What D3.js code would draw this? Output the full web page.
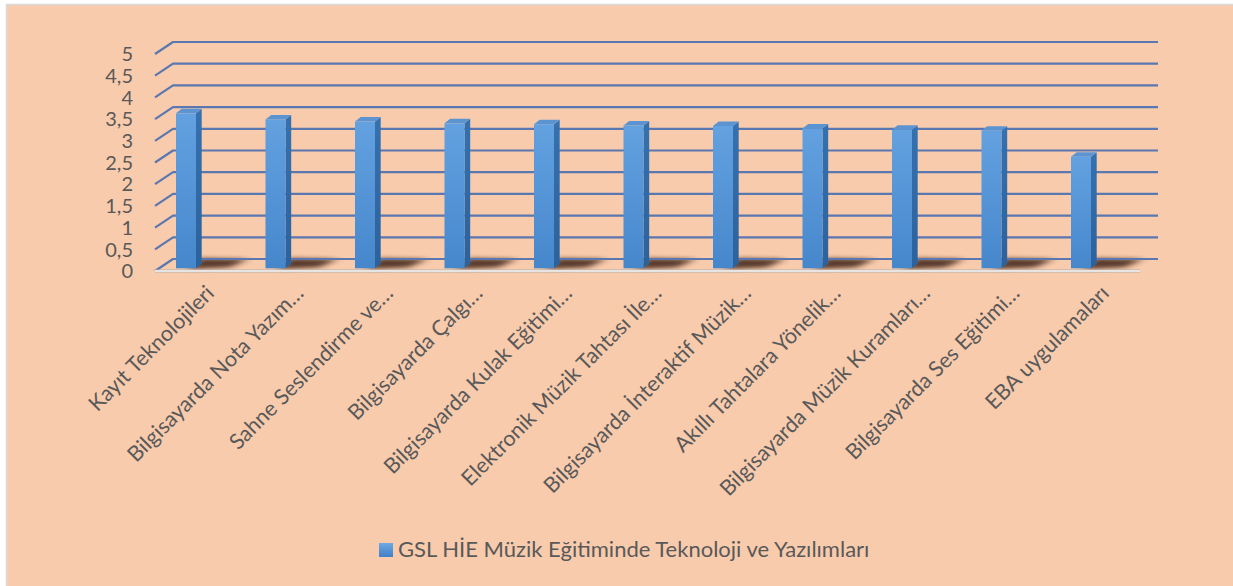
<!DOCTYPE html>
<html><head><meta charset="utf-8">
<script src="https://cdn.jsdelivr.net/npm/d3@7/dist/d3.min.js"></script>
<style>
html,body{margin:0;padding:0;background:#fff;}
svg{display:block;}
text{font-family:Lato,"Open Sans",sans-serif;fill:#595959;}
</style></head>
<body>
<svg id="chart" width="1233" height="586"></svg>
<script>
const categories = [
  "Kayıt Teknolojileri",
  "Bilgisayarda Nota Yazım…",
  "Sahne Seslendirme ve…",
  "Bilgisayarda Çalgı…",
  "Bilgisayarda Kulak Eğitimi…",
  "Elektronik Müzik Tahtası İle…",
  "Bilgisayarda İnteraktif Müzik…",
  "Akıllı Tahtalara Yönelik…",
  "Bilgisayarda Müzik Kuramları…",
  "Bilgisayarda Ses Eğitimi…",
  "EBA uygulamaları"
];
const values = [3.57, 3.43, 3.38, 3.34, 3.32, 3.29, 3.28, 3.22, 3.19, 3.17, 2.57];
const yTicks = [0, 0.5, 1, 1.5, 2, 2.5, 3, 3.5, 4, 4.5, 5];
const tickLabels = ["0", "0,5", "1", "1,5", "2", "2,5", "3", "3,5", "4", "4,5", "5"];
const seriesName = "GSL HİE Müzik Eğitiminde Teknoloji ve Yazılımları";

const svg = d3.select("#chart");
const W = 1233, H = 586;
const defs = svg.append("defs");

// background
svg.append("rect").attr("x", 6.5).attr("y", 4.5).attr("width", W).attr("height", H)
  .attr("fill", "#F8CBAD").attr("stroke", "#D9D9D9").attr("stroke-width", 1.5);

// 3D geometry
const depthX = 18, depthY = -12;
const frontLeft = 155, frontRight = 1140;
const y = d3.scaleLinear().domain([0, 5]).range([271, 54]);   // front plane
const barOff = -2.7;                                          // bar front plane
const x = d3.scaleBand().domain(categories).range([141.25, 141.25 + 11 * 89.5]).padding(0);
const barW = 20, barDX = 5.7, barDY = -4.5;

// gradients
const gFront = defs.append("linearGradient").attr("id", "gFront").attr("x1", 0).attr("y1", 0).attr("x2", 0).attr("y2", 1);
gFront.append("stop").attr("offset", "0%").attr("stop-color", "#63A1E0");
gFront.append("stop").attr("offset", "100%").attr("stop-color", "#4687CC");
const gSide = defs.append("linearGradient").attr("id", "gSide").attr("x1", 0).attr("y1", 0).attr("x2", 0).attr("y2", 1);
gSide.append("stop").attr("offset", "0%").attr("stop-color", "#3571B0");
gSide.append("stop").attr("offset", "100%").attr("stop-color", "#2C629C");
const gLeg = defs.append("linearGradient").attr("id", "gLeg").attr("x1", 0).attr("y1", 0).attr("x2", 0).attr("y2", 1);
gLeg.append("stop").attr("offset", "0%").attr("stop-color", "#6EA9E3");
gLeg.append("stop").attr("offset", "100%").attr("stop-color", "#3F80C6");
const blur = defs.append("filter").attr("id", "blur").attr("x", "-50%").attr("y", "-100%").attr("width", "200%").attr("height", "300%");
blur.append("feGaussianBlur").attr("stdDeviation", "4 2");

// floor shadows
svg.append("g").selectAll("path").data(categories).join("path")
  .attr("d", d => {
    const x0 = x(d) + (x.bandwidth() - barW) / 2 + barW;
    const yb = y(0) + barOff;
    return `M${x0 - 8},${yb + 1} L${x0 + 34},${yb - 1} L${x0 + 52},${yb - 9} L${x0 + 4},${yb - 10} Z`;
  })
  .attr("fill", "#3e2416").attr("opacity", 0.85).attr("filter", "url(#blur)");

// gridlines (diagonal + back wall)
const grid = svg.append("g");
grid.selectAll("path").data(yTicks).join("path")
  .attr("d", v => `M${frontLeft},${y(v)} L${frontLeft + depthX},${y(v) + depthY} L${frontRight + depthX},${y(v) + depthY}`)
  .attr("fill", "none").attr("stroke", "#5B77B0").attr("stroke-width", 2.2)
  .attr("stroke-linejoin", "round");

// front floor edge
svg.append("line").attr("x1", frontLeft).attr("x2", frontRight).attr("y1", y(0)).attr("y2", y(0))
  .attr("stroke", "#B8B0A8").attr("stroke-width", 3);
svg.append("line").attr("x1", frontLeft).attr("x2", frontRight).attr("y1", y(0)).attr("y2", y(0))
  .attr("stroke", "#F7F7F7").attr("stroke-width", 1.5);

// bars
const bars = svg.append("g").selectAll("g").data(categories.map((c, i) => ({c, v: values[i]}))).join("g");
bars.each(function(d) {
  const g = d3.select(this);
  const x0 = x(d.c) + (x.bandwidth() - barW) / 2;
  const yt = y(d.v) + barOff, yb = y(0) + barOff;
  g.append("path").attr("d", `M${x0 + barW},${yt} L${x0 + barW + barDX},${yt + barDY} L${x0 + barW + barDX},${yb + barDY} L${x0 + barW},${yb} Z`)
    .attr("fill", "url(#gSide)");
  g.append("path").attr("d", `M${x0},${yt} L${x0 + barW},${yt} L${x0 + barW + barDX},${yt + barDY} L${x0 + barDX},${yt + barDY} Z`)
    .attr("fill", "#5B94D0");
  g.append("rect").attr("x", x0).attr("y", yt).attr("width", barW).attr("height", yb - yt)
    .attr("fill", "url(#gFront)");
});

// y labels
svg.append("g").selectAll("text").data(yTicks).join("text")
  .attr("x", 133).attr("y", v => y(v)).attr("dy", "0.36em")
  .attr("text-anchor", "end").attr("font-size", 20).text((v, i) => tickLabels[i]);

// x labels
svg.append("g").selectAll("text").data(categories).join("text")
  .attr("transform", d => `translate(${x(d) + x.bandwidth() / 2 + 24},${289}) rotate(-45)`)
  .attr("text-anchor", "end").attr("dy", "0.36em").attr("font-size", 21.5).text(d => d);

// legend
svg.append("rect").attr("x", 379).attr("y", 543).attr("width", 14).attr("height", 14).attr("fill", "url(#gLeg)");
svg.append("text").attr("x", 398).attr("y", 557).attr("font-size", 22).text(seriesName);
</script>
</body></html>
